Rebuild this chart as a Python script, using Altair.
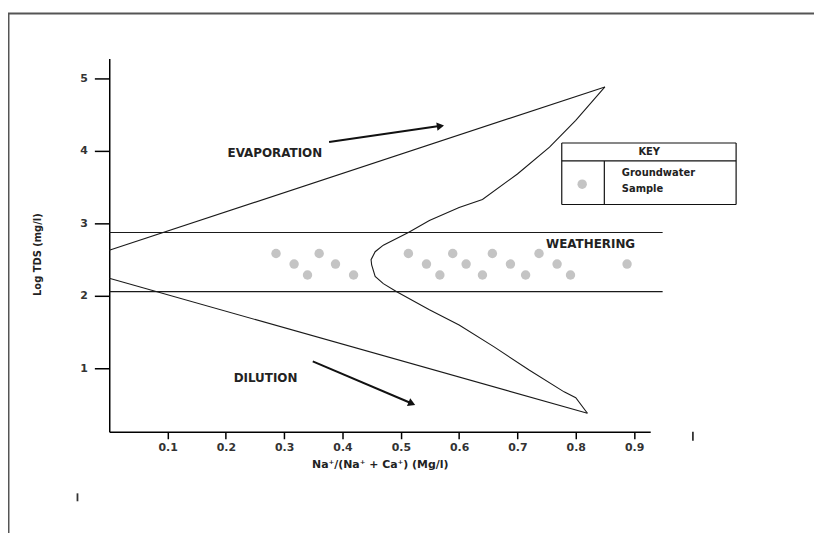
import altair as alt
import pandas as pd

# ---------------- data ----------------
x_ticks = [0.1, 0.2, 0.3, 0.4, 0.5, 0.6, 0.7, 0.8, 0.9]
y_ticks = [1, 2, 3, 4, 5]

# groundwater samples
sample_x = [0.286, 0.360, 0.513, 0.589, 0.657, 0.737,
            0.317, 0.388, 0.544, 0.612, 0.688, 0.768, 0.888,
            0.340, 0.419, 0.567, 0.640, 0.714, 0.791]
sample_y = [2.585, 2.585, 2.585, 2.585, 2.585, 2.585,
            2.44, 2.44, 2.44, 2.44, 2.44, 2.44, 2.44,
            2.29, 2.29, 2.29, 2.29, 2.29, 2.29]

# evaporation boundary (left upper)
evap_x = [0.0, 0.85]
evap_y = [2.63, 4.88]
# dilution boundary (left lower)
dil_x = [0.0, 0.82]
dil_y = [2.244, 0.385]
# right-hand curve
curve_x = [0.85, 0.80, 0.755, 0.70, 0.64, 0.60, 0.549, 0.513, 0.47, 0.456, 0.449, 0.450,
           0.456, 0.47, 0.493, 0.549, 0.60, 0.66, 0.72, 0.78, 0.80, 0.82]
curve_y = [4.88, 4.42, 4.05, 3.68, 3.33, 3.22, 3.04, 2.875, 2.70, 2.61, 2.50, 2.43,
           2.27, 2.17, 2.06, 1.81, 1.60, 1.30, 0.98, 0.68, 0.60, 0.385]
# weathering band limits
band_y = [2.875, 2.06]
band_x = [0.0, 0.949]

# ---------------- tables ----------------
samples = pd.DataFrame({"x": sample_x, "y": sample_y})

rows = []
for g, (xx, yy) in enumerate([(evap_x, evap_y), (dil_x, dil_y), (curve_x, curve_y)]):
    for i, (a, b) in enumerate(zip(xx, yy)):
        rows.append({"g": g, "i": i, "x": a, "y": b})
for k, by in enumerate(band_y):
    for i, bx in enumerate(band_x):
        rows.append({"g": 10 + k, "i": i, "x": bx, "y": by})
lines = pd.DataFrame(rows)

W, H = 545, 376
xs = alt.Scale(domain=[0, 0.9277], nice=False, zero=False)
ys = alt.Scale(domain=[0.13, 5.27], nice=False, zero=False)
FONT = "DejaVu Sans"

xaxis = alt.Axis(values=x_ticks, format=".1f", tickSize=7, tickWidth=1.5, tickColor="black",
                 domainColor="black", domainWidth=1.5, grid=False,
                 labelFont=FONT, labelFontWeight="bold", labelFontSize=11, labelColor="#333",
                 labelPadding=3, title="Na⁺/(Na⁺ + Ca⁺) (Mg/l)", titleFont=FONT,
                 titleFontSize=11, titleFontWeight="bold", titleColor="#222", titleY=27)
yaxis = alt.Axis(values=y_ticks, format="d", tickSize=15, tickWidth=1.5, tickColor="black",
                 domainColor="black", domainWidth=1.5, grid=False,
                 labelFont=FONT, labelFontWeight="bold", labelFontSize=11, labelColor="#333",
                 labelPadding=7, title="Log TDS (mg/l)", titleFont=FONT, titleFontSize=10,
                 titleFontWeight="bold", titleColor="#222", titleX=-67, titleY=197)

X = alt.X("x:Q", scale=xs, axis=xaxis)
Y = alt.Y("y:Q", scale=ys, axis=yaxis)

pts = alt.Chart(samples).mark_circle(size=90, color="#c4c4c4", opacity=1).encode(x=X, y=Y)

curves = alt.Chart(lines).mark_line(color="#1a1a1a", strokeWidth=1.1).encode(
    x=X, y=Y, detail="g:N", order="i:Q")

# arrows
arrows = pd.DataFrame({"g": [0, 0, 1, 1], "x": [0.377, 0.566, 0.349, 0.516],
                       "y": [4.12, 4.34, 1.10, 0.53]})
shafts = alt.Chart(arrows).mark_line(color="#111", strokeWidth=2).encode(x=X, y=Y, detail="g:N")
head1 = alt.Chart(pd.DataFrame({"x": [0.568], "y": [4.34]})).mark_point(
    shape="triangle-right", filled=True, color="#111", size=70, angle=351.7, opacity=1).encode(x=X, y=Y)
head2 = alt.Chart(pd.DataFrame({"x": [0.519], "y": [0.52]})).mark_point(
    shape="triangle-right", filled=True, color="#111", size=70, angle=23, opacity=1).encode(x=X, y=Y)

# labels
labels = pd.DataFrame({"x": [0.284, 0.268], "y": [3.97, 0.867], "t": ["EVAPORATION", "DILUTION"]})
lab = alt.Chart(labels).mark_text(font=FONT, fontSize=12, fontWeight="bold", color="#222",
                                  align="center", baseline="middle").encode(x=X, y=Y, text="t:N")
weath = alt.Chart(pd.DataFrame({"x": [0.749], "y": [2.72], "t": ["WEATHERING"]})).mark_text(
    font=FONT, fontSize=12, fontWeight="bold", color="#222", align="left", baseline="middle"
).encode(x=X, y=Y, text="t:N")

# key box
box = pd.DataFrame({
    "x": [0.776, 0.776, 0.776, 0.776, 1.075, 0.849],
    "x2": [1.075, 1.075, 1.075, 0.776, 1.075, 0.849],
    "y": [4.107, 3.861, 3.26, 4.107, 4.107, 3.861],
    "y2": [4.107, 3.861, 3.26, 3.26, 3.26, 3.26]})
keybox = alt.Chart(box).mark_rule(color="#111", strokeWidth=1.2).encode(
    x=X, y=Y, x2="x2:Q", y2="y2:Q")
keydot = alt.Chart(pd.DataFrame({"x": [0.811], "y": [3.54]})).mark_circle(
    size=90, color="#c4c4c4", opacity=1).encode(x=X, y=Y)
keytitle = alt.Chart(pd.DataFrame({"x": [0.926], "y": [3.985], "t": ["KEY"]})).mark_text(
    font=FONT, fontSize=10, fontWeight="bold", color="#222", align="center", baseline="middle"
).encode(x=X, y=Y, text="t:N")
keytext = alt.Chart(pd.DataFrame({"x": [0.879, 0.879], "y": [3.70, 3.47],
                                  "t": ["Groundwater", "Sample"]})).mark_text(
    font=FONT, fontSize=10, fontWeight="bold", color="#222", align="left", baseline="middle"
).encode(x=X, y=Y, text="t:N")

# outer frame and stray marks (pixel positions)
frame_top = alt.Chart(pd.DataFrame({"a": [0]})).mark_rule(color="#555", strokeWidth=2).encode(
    x=alt.value(-102), x2=alt.value(720), y=alt.value(-45.5))
frame_left = alt.Chart(pd.DataFrame({"a": [0]})).mark_rule(color="#555", strokeWidth=2).encode(
    x=alt.value(-101.5), y=alt.value(-45.5), y2=alt.value(480))
stray1 = alt.Chart(pd.DataFrame({"a": [0]})).mark_rule(color="#333", strokeWidth=1.8).encode(
    x=alt.value(588), y=alt.value(376), y2=alt.value(385))
stray2 = alt.Chart(pd.DataFrame({"a": [0]})).mark_rule(color="#333", strokeWidth=1.8).encode(
    x=alt.value(-32), y=alt.value(438), y2=alt.value(446))

chart = alt.layer(
    pts, curves, shafts, head1, head2, lab, weath, keybox, keydot, keytitle, keytext,
    frame_top, frame_left, stray1, stray2
).properties(
    width=W, height=H,
    autosize=alt.AutoSizeParams(type="none"),
    padding={"left": 102, "top": 49, "right": 165, "bottom": 100},
    background="white",
).configure_view(stroke=None)

chart.save("out.html", embed_options={"renderer": "svg", "actions": False})
